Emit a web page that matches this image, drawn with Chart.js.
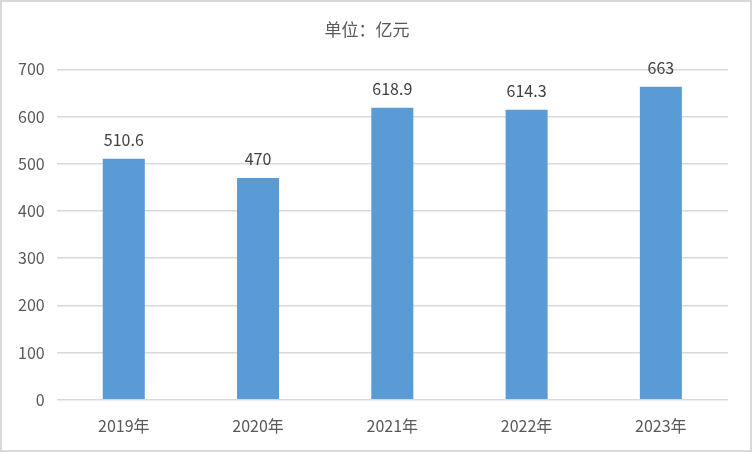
<!DOCTYPE html>
<html>
<head>
<meta charset="utf-8">
<script src="https://cdn.jsdelivr.net/npm/chart.js@4"></script>
<style>
  html, body { margin: 0; padding: 0; background: #fff; }
  #wrap { width: 752px; height: 452px; box-sizing: border-box; border: 2px solid #d9d9d9; }
</style>
</head>
<body>
<div id="wrap"><canvas id="chart" width="748" height="448"></canvas></div>
<script>
const categories = ["2019年", "2020年", "2021年", "2022年", "2023年"];
const values = [510.6, 470, 618.9, 614.3, 663];
const valueLabels = ["510.6", "470", "618.9", "614.3", "663"];
const yTicks = [0, 100, 200, 300, 400, 500, 600, 700];

const FONT = '"Microsoft YaHei", "Noto Sans CJK SC", sans-serif';

// draw value labels above bars
const barLabels = {
  id: "barLabels",
  afterDatasetsDraw(chart) {
    const ctx = chart.ctx;
    const meta = chart.getDatasetMeta(0);
    ctx.save();
    ctx.font = "16px " + FONT;
    ctx.fillStyle = "#404040";
    ctx.textAlign = "center";
    ctx.textBaseline = "bottom";
    meta.data.forEach((bar, i) => {
      ctx.fillText(valueLabels[i], bar.x, bar.y - 11);
    });
    ctx.restore();
  },
};

new Chart(document.getElementById("chart"), {
  type: "bar",
  data: {
    labels: categories,
    datasets: [
      {
        data: values,
        backgroundColor: "#5b9bd5",
        categoryPercentage: 1,
        barPercentage: 0.313,
      },
    ],
  },
  options: {
    responsive: false,
    animation: false,
    layout: { padding: { left: 4, right: 22, top: 0, bottom: 5 } },
    plugins: {
      legend: { display: false },
      tooltip: { enabled: false },
      title: {
        display: true,
        text: "单位：亿元",
        color: "#595959",
        font: { family: FONT, size: 17, weight: "normal" },
        padding: { top: 17, bottom: 30 },
      },
    },
    scales: {
      x: {
        grid: { display: false },
        border: { display: false },
        ticks: { color: "#595959", font: { family: FONT, size: 16 }, padding: 9 },
      },
      y: {
        min: 0,
        max: 700,
        afterBuildTicks(axis) {
          axis.ticks = yTicks.map((v) => ({ value: v }));
        },
        grid: { color: "#d9d9d9", lineWidth: 1.5, drawTicks: false },
        border: { display: false },
        ticks: { color: "#595959", font: { family: FONT, size: 16 }, padding: 12 },
      },
    },
  },
  plugins: [barLabels],
});
</script>
</body>
</html>
